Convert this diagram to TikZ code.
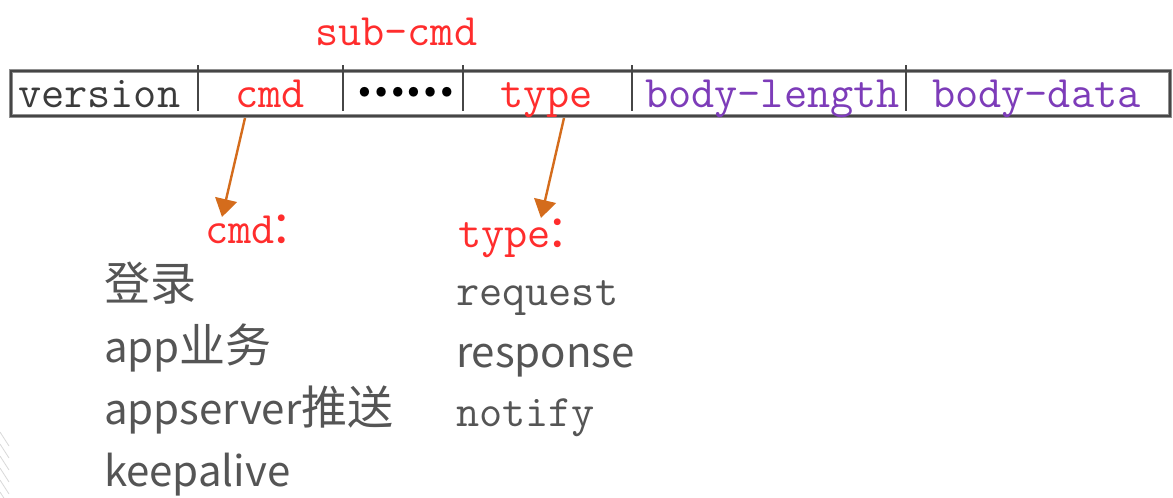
\documentclass[tikz,border=0pt]{standalone}
\usepackage{fontspec}
\newfontfamily\cjk{Noto Sans CJK SC}
\usetikzlibrary{arrows.meta,calc}
\definecolor{txtred}{RGB}{255,45,45}
\definecolor{txtpurple}{RGB}{125,60,185}
\definecolor{txtgray}{RGB}{85,85,85}
\definecolor{arrorange}{RGB}{212,108,28}
\definecolor{boxgray}{RGB}{70,70,70}
\newcommand{\zhbig}[1]{{\fontsize{46}{50}\selectfont #1}}
\tikzset{
  lbl/.style={anchor=base west, inner sep=0pt, outer sep=0pt},
  mono/.style={lbl, font=\fontsize{45}{50}\selectfont\ttfamily},
  sanslist/.style={lbl, font=\fontsize{42}{50}\selectfont\cjk, text=txtgray},
  arr/.style={draw=arrorange, line width=2.4pt, -{Triangle[width=22pt,length=18pt]}},
  divider/.style={draw=boxgray, line width=1.8pt},
}
\begin{document}
\begin{tikzpicture}[x=1pt,y=-1pt]
\useasboundingbox[fill=white] (0,0) rectangle (1173,498);
% frame
\draw[draw=boxgray!60, line width=4.5pt] (11,71) rectangle (1170,116);
\draw[draw=boxgray, line width=2.5pt] (11,71) rectangle (1170,116);
\foreach \xx in {198,343,463,632,906}{
  \draw[divider] (\xx,65) -- (\xx,111);
}
% field texts
\node[mono, text=txtgray!70!black] (version) at (18,107) {version};
\node[lbl, font=\fontsize{44}{50}\selectfont\cjk\bfseries, text=black] (dots) at (356,96) {……};
\node[mono, text=txtred] (cmd) at (235,107) {cmd};
\node[mono, text=txtred] (type) at (500,107) {type};
\node[mono, text=txtpurple] (blen) at (645,107) {body-length};
\node[mono, text=txtpurple] (bdata) at (932,107) {body-data};
\node[mono, text=txtred] (subcmd) at (315,45) {sub-cmd};
% labels below
\node[mono, text=txtred] (cmdlbl) at (205,243) {cmd{\cjk\kern-4pt ：}};
\node[mono, text=txtred] (typelbl) at (458,247) {type{\cjk\kern-4pt ：}};
% arrows
\draw[arr] ([shift={(10,11)}]cmd.base west) -- ([shift={(17,-26)}]cmdlbl.base west);
\draw[arr] ([shift={(64,11)}]type.base west) -- ([shift={(83,-29)}]typelbl.base west);
% cmd list
\node[sanslist] (login) at (104,300) {\zhbig{登录}};
\node[sanslist] (app) at (104,362) {app\zhbig{业务}};
\node[sanslist] (push) at (104,424) {appserver\zhbig{推送}};
\node[sanslist] (keep) at (104,486) {keepalive};
% type list
\node[mono, text=txtgray] (req) at (456,305) {request};
\node[sanslist] (resp) at (456,367) {response};
\node[mono, text=txtgray] (noti) at (456,426) {notify};
% faint hatch at bottom-left
\foreach \yy in {432,444,456,468,480,492}{
  \draw[gray!30, line width=0.8pt] (0,\yy) -- (9,\yy+14);
}
\end{tikzpicture}
\end{document}
